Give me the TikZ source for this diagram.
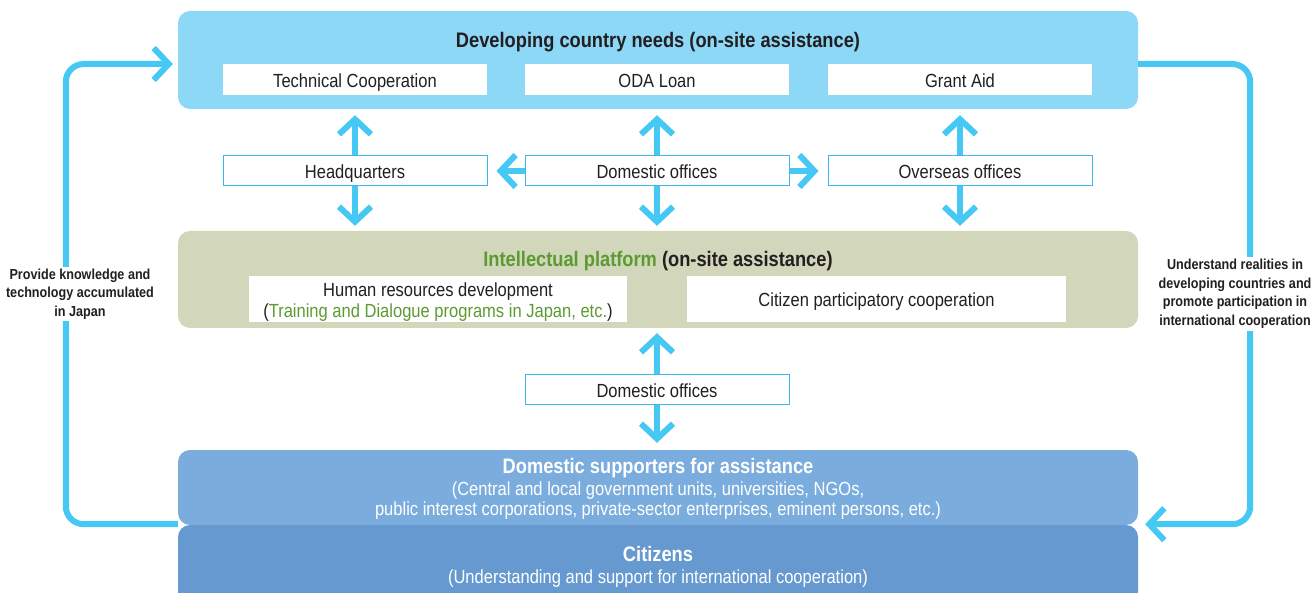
\documentclass[tikz,border=0pt]{standalone}
\usepackage{fontspec}
\setmainfont{Liberation Sans}[FakeStretch=0.87]
\usepackage{tikz}
\usetikzlibrary{positioning, arrows.meta}
\definecolor{needsblue}{HTML}{8DD7F7}
\definecolor{arrowcyan}{HTML}{45C8F3}
\definecolor{boxline}{HTML}{3DB8EA}
\definecolor{platgreen}{HTML}{D2D6BB}
\definecolor{textgreen}{HTML}{5C9B32}
\definecolor{suppblue}{HTML}{7AADDD}
\definecolor{citblue}{HTML}{6699CF}
\definecolor{darktext}{HTML}{231F20}

\begin{document}
\begin{tikzpicture}[x=1pt,y=-1pt,
  bigbox/.style={rounded corners=12pt, minimum width=960pt, inner sep=0pt},
  whitebox/.style={fill=white, minimum width=264pt, minimum height=31pt, inner sep=0pt, text height=16pt, text depth=0pt, text=darktext, font=\fontsize{19}{21}\selectfont},
  officebox/.style={whitebox, draw=boxline, line width=1pt, minimum height=30pt},
  arr/.style={-{Straight Barb[length=15pt,width=32pt]}, line width=6pt, draw=arrowcyan},
  loopline/.style={arr, rounded corners=18pt},
  sidelabel/.style={fill=white, align=center, inner sep=2pt, text=darktext, font=\bfseries\fontsize{14.5}{18.5}\selectfont},
  boxtitle/.style={text=darktext, font=\bfseries\fontsize{21}{24}\selectfont},
  whitetitle/.style={text=white, font=\bfseries\fontsize{21}{24}\selectfont},
  whitenote/.style={text=white, align=center, font=\fontsize{19}{20}\selectfont}]
\useasboundingbox (0,0) rectangle (1312,593);
\clip (0,0) rectangle (1312,593);

% the four layers
\node[bigbox, fill=needsblue, minimum height=98pt] (needs) at (658,60) {};
\node[bigbox, fill=platgreen, minimum height=97pt] (platform) at (658,279.5) {};
\node[bigbox, fill=citblue, minimum height=84pt] (citizens) at (658,567) {};
\node[bigbox, fill=suppblue, minimum height=75pt] (support) at (658,487.5) {};

\node[boxtitle] (needstitle) at (658,42) {Developing country needs (on-site assistance)};
\foreach \n/\x/\t in {tc/355/Technical Cooperation, oda/657/ODA Loan, grant/960/Grant Aid}
  \node[whitebox] (\n) at (\x,79.5) {\t};

\foreach \n/\x/\t in {hq/355/Headquarters, dom/657/Domestic offices, ovs/960/Overseas offices}
  \node[officebox] (\n) at (\x,171) {\t};

\node[boxtitle] (plattitle) at (658,261) {\textcolor{textgreen}{Intellectual platform} (on-site assistance)};
\node[whitebox, minimum width=378pt, minimum height=46pt] (hrd) at (438,299) {};
\node[text=darktext, align=center, inner sep=0pt, font=\fontsize{19}{21}\selectfont] (hrdtext) at (438,302)
  {Human resources development\\(\textcolor{textgreen}{Training and Dialogue programs in Japan, etc.})};
\node[whitebox, minimum width=379pt, minimum height=46pt] (cpc) at (876.5,299) {Citizen participatory cooperation};

\node[officebox] (domlow) at (657,390) {Domestic offices};

\node[whitetitle] (supptitle) at (658,468) {Domestic supporters for assistance};
\node[whitenote] (suppnote) at (658,501) {(Central and local government units, universities, NGOs,\\public interest corporations, private-sector enterprises, eminent persons, etc.)};
\node[whitetitle] (cittitle) at (658,554) {Citizens};
\node[whitenote] (citnote) at (658,579) {(Understanding and support for international cooperation)};

% arrows between the layers
\foreach \n in {hq,dom,ovs}{
  \draw[arr, shorten >=6pt] (\n.north) -- (\n.north |- needs.south);
  \draw[arr, shorten >=5pt] (\n.south) -- (\n.south |- platform.north);
}
\draw[arr, shorten >=9pt] (dom.west) -- (hq.east);
\draw[arr, shorten >=9pt] (dom.east) -- (ovs.west);
\draw[arr, shorten >=5pt] (domlow.north) -- (domlow.north |- platform.south);
\draw[arr, shorten >=7pt] (domlow.south) -- (domlow.south |- support.north);

% side loops
\draw[loopline] ([yshift=1pt]support.south west) -- ++(-112,0) |- ([xshift=-5pt,yshift=-4pt]needs.west);
\draw[loopline] ([yshift=-4pt]needs.east) -- ++(112,0) |- ([xshift=7pt,yshift=1pt]support.south east);

\node[sidelabel] (provide) at (80,294) {Provide knowledge and\\technology accumulated\\in Japan};
\node[sidelabel] (understand) at (1235,294) {Understand realities in\\developing countries and\\promote participation in\\international cooperation};
\end{tikzpicture}
\end{document}
